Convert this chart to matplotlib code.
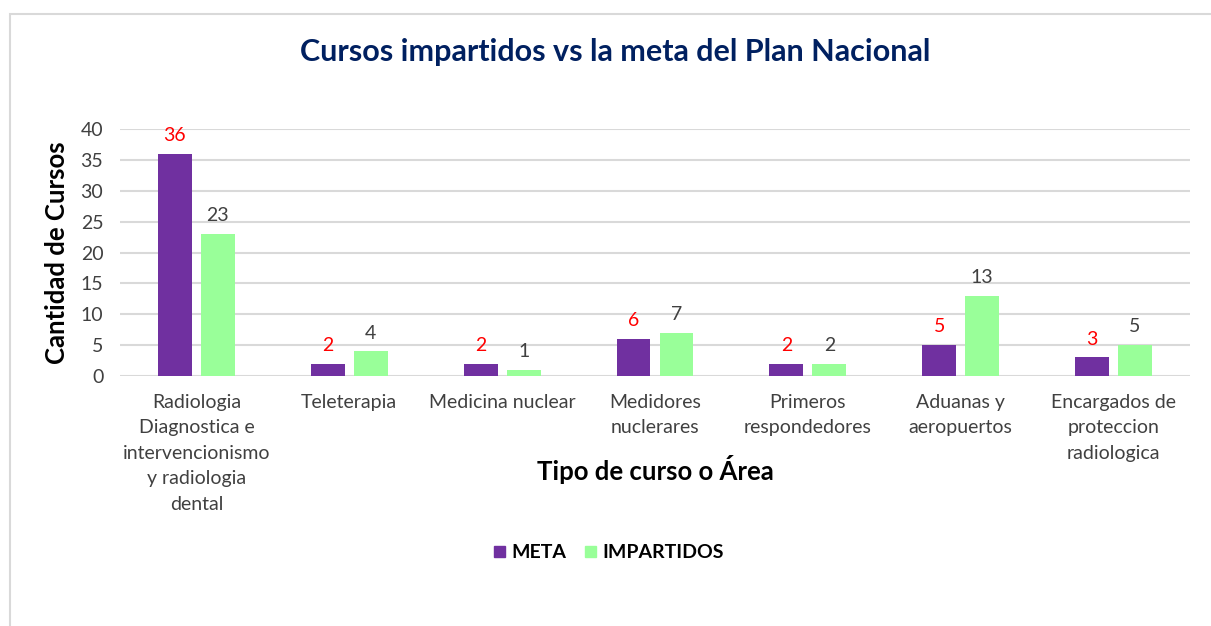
"""Cursos impartidos vs la meta del Plan Nacional - grouped bar chart."""
import numpy as np
import matplotlib
matplotlib.use("Agg")
import matplotlib.pyplot as plt
from matplotlib.patches import Rectangle, Patch

categories = [
    "Radiologia\nDiagnostica e\nintervencionismo\ny radiologia\ndental",
    "Teleterapia",
    "Medicina nuclear",
    "Medidores\nnuclerares",
    "Primeros\nrespondedores",
    "Aduanas y\naeropuertos",
    "Encargados de\nproteccion\nradiologica",
]
meta = [36, 2, 2, 6, 2, 5, 3]
impartidos = [23, 4, 1, 7, 2, 13, 5]
yticks = [0, 5, 10, 15, 20, 25, 30, 35, 40]

C_META = "#7030A0"
C_IMP = "#99FF99"
GRID = "#D9D9D9"

plt.rcParams["font.family"] = ["Lato", "DejaVu Sans"]

W, H = 1211, 626
fig = plt.figure(figsize=(W / 100, H / 100), dpi=100)

# chart border (light gray frame)
fig.patches.append(Rectangle((10 / W, -0.01), 1.1, 1 - 14 / H + 0.01, transform=fig.transFigure,
                             fill=False, edgecolor="#D9D9D9", lw=1.5))

ax = fig.add_axes([120 / W, 1 - 376 / H, (1190 - 120) / W, (376 - 129) / H])
x = np.arange(len(categories))
bw = 0.222
off = 0.1406
b1 = ax.bar(x - off, meta, bw, color=C_META, zorder=3)
b2 = ax.bar(x + off, impartidos, bw, color=C_IMP, zorder=3)

for rect, v in zip(b1, meta):
    ax.annotate(str(v), (rect.get_x() + rect.get_width() / 2, v), xytext=(0, 7),
                textcoords="offset points", ha="center", va="bottom", color="#FF0000", fontsize=14)
for rect, v in zip(b2, impartidos):
    ax.annotate(str(v), (rect.get_x() + rect.get_width() / 2, v), xytext=(0, 7),
                textcoords="offset points", ha="center", va="bottom", color="#404040", fontsize=14)

ax.set_xlim(-0.5, len(categories) - 0.5)
ax.set_ylim(0, 40)
ax.set_yticks(yticks)
ax.tick_params(axis="y", length=0, labelsize=14, labelcolor="#404040", pad=12)
ax.set_xticks(x)
ax.set_xticklabels(categories, fontsize=14, color="#404040", linespacing=1.6)
ax.tick_params(axis="x", length=0, pad=13)
ax.grid(axis="y", color=GRID, lw=1.5, zorder=0)
for s in ax.spines.values():
    s.set_visible(False)

ax.set_ylabel("Cantidad de Cursos", fontsize=18.5, fontweight="bold", color="black", labelpad=8)
fig.text(655 / W, 1 - 470 / H, "Tipo de curso o Área", fontsize=18.5, fontweight="bold",
         ha="center", va="center")
fig.text(615 / W, 1 - 52 / H, "Cursos impartidos vs la meta del Plan Nacional", fontsize=22,
         fontweight="bold", color="#002060", ha="center", va="center")

handles = [Patch(color=C_META, label="META"), Patch(color=C_IMP, label="IMPARTIDOS")]
leg = fig.legend(handles=handles, loc="center", bbox_to_anchor=(609 / W, 1 - 553 / H), ncol=2,
                 frameon=False, handlelength=0.55, handleheight=0.55, handletextpad=0.35,
                 columnspacing=0.95, prop={"weight": "bold", "size": 14})

fig.savefig("out.png", dpi=100)
